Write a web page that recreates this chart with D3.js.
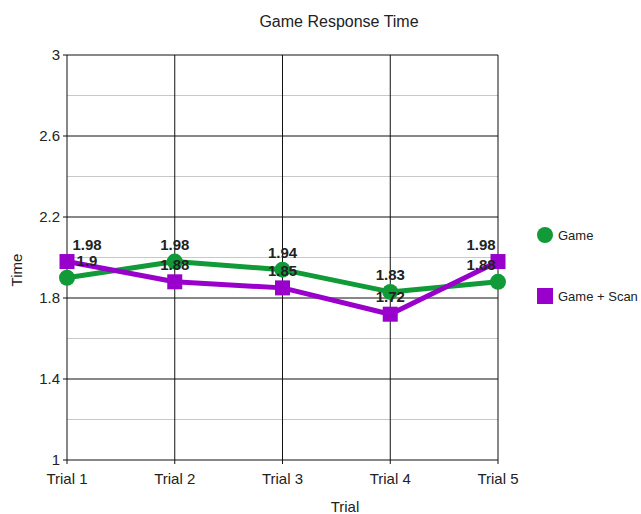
<!DOCTYPE html>
<html>
<head>
<meta charset="utf-8">
<script src="https://cdn.jsdelivr.net/npm/d3@7"></script>
<style>
  body { margin: 0; background: #fff; }
  text { font-family: "Liberation Sans", Arial, sans-serif; }
</style>
</head>
<body>
<div id="chart"></div>
<script>
const trials = ["Trial 1", "Trial 2", "Trial 3", "Trial 4", "Trial 5"];
const gameVals = [1.9, 1.98, 1.94, 1.83, 1.88];
const scanVals = [1.98, 1.88, 1.85, 1.72, 1.98];
const yTicks = [1, 1.4, 1.8, 2.2, 2.6, 3];
const seriesNames = ["Game", "Game + Scan"];
const colors = ["#109a38", "#9900cc"];

const W = 641, H = 514;
const margin = { top: 55, right: 143, bottom: 54, left: 67 };
const width = W - margin.left - margin.right,
      height = H - margin.top - margin.bottom;

const svgRoot = d3.select("#chart").append("svg")
    .attr("width", W).attr("height", H);
const svg = svgRoot.append("g")
    .attr("transform", "translate(" + margin.left + "," + margin.top + ")");

const x = d3.scalePoint().domain(trials).range([0, width]);
const y = d3.scaleLinear().domain([1, 3]).range([height, 0]);

// minor gridlines
const minor = d3.range(1.2, 3, 0.4);
svg.selectAll(".minor").data(minor).enter().append("line")
    .attr("x1", 0).attr("x2", width)
    .attr("y1", d => y(d)).attr("y2", d => y(d))
    .attr("stroke", "#c8c8c8").attr("stroke-width", 1);

// major gridlines
svg.selectAll(".hgrid").data(yTicks).enter().append("line")
    .attr("x1", -4).attr("x2", width)
    .attr("y1", d => y(d)).attr("y2", d => y(d))
    .attr("stroke", "#111").attr("stroke-width", 1);
svg.selectAll(".vgrid").data(trials).enter().append("line")
    .attr("x1", d => x(d)).attr("x2", d => x(d))
    .attr("y1", 0).attr("y2", height + 4)
    .attr("stroke", "#111").attr("stroke-width", 1);

// axis labels
svg.selectAll(".ylab").data(yTicks).enter().append("text")
    .attr("x", -7).attr("y", d => y(d) + 5)
    .attr("text-anchor", "end").attr("font-size", 15).attr("fill", "#222")
    .text(d => d);
svg.selectAll(".xlab").data(trials).enter().append("text")
    .attr("x", d => x(d)).attr("y", height + 24)
    .attr("text-anchor", "middle").attr("font-size", 15).attr("fill", "#222")
    .text(d => d);

// lines
const series = [gameVals, scanVals];
const line = d3.line().x((d, i) => x(trials[i])).y(d => y(d));
series.forEach((vals, s) => {
  svg.append("path").datum(vals)
    .attr("d", line).attr("fill", "none")
    .attr("stroke", colors[s]).attr("stroke-width", 5)
    .attr("stroke-linejoin", "round");
});

// markers
svg.selectAll(".dot").data(gameVals).enter().append("circle")
    .attr("cx", (d, i) => x(trials[i])).attr("cy", d => y(d))
    .attr("r", 8).attr("fill", colors[0]);
svg.selectAll(".sq").data(scanVals).enter().append("rect")
    .attr("x", (d, i) => x(trials[i]) - 7.5).attr("y", d => y(d) - 7.5)
    .attr("width", 15).attr("height", 15).attr("fill", colors[1]);

// value labels, kept inside the plot
series.forEach((vals, s) => {
  svg.selectAll(".val" + s).data(vals).enter().append("text")
    .attr("x", (d, i) => Math.min(Math.max(x(trials[i]), 20), width - 17))
    .attr("y", d => y(d) - 12)
    .attr("text-anchor", "middle").attr("font-size", 15)
    .attr("font-weight", "bold").attr("fill", "#222")
    .text(d => d);
});

// titles
svgRoot.append("text").attr("x", 339).attr("y", 27)
    .attr("text-anchor", "middle").attr("font-size", 16).attr("fill", "#222")
    .text("Game Response Time");
svgRoot.append("text").attr("x", 345).attr("y", 512)
    .attr("text-anchor", "middle").attr("font-size", 15).attr("fill", "#222")
    .text("Trial");
svgRoot.append("text").attr("transform", "translate(22,270) rotate(-90)")
    .attr("text-anchor", "middle").attr("font-size", 15).attr("fill", "#222")
    .text("Time");

// legend
const legend = svgRoot.selectAll(".legend").data(seriesNames).enter().append("g")
    .attr("transform", (d, i) => "translate(545," + (235 + i * 61) + ")");
legend.filter((d, i) => i === 0).append("circle")
    .attr("r", 8).attr("fill", colors[0]);
legend.filter((d, i) => i === 1).append("rect")
    .attr("x", -8).attr("y", -8).attr("width", 16).attr("height", 16)
    .attr("fill", colors[1]);
legend.append("text").attr("x", 13).attr("y", 5)
    .attr("font-size", 13).attr("fill", "#222").text(d => d);
</script>
</body>
</html>
